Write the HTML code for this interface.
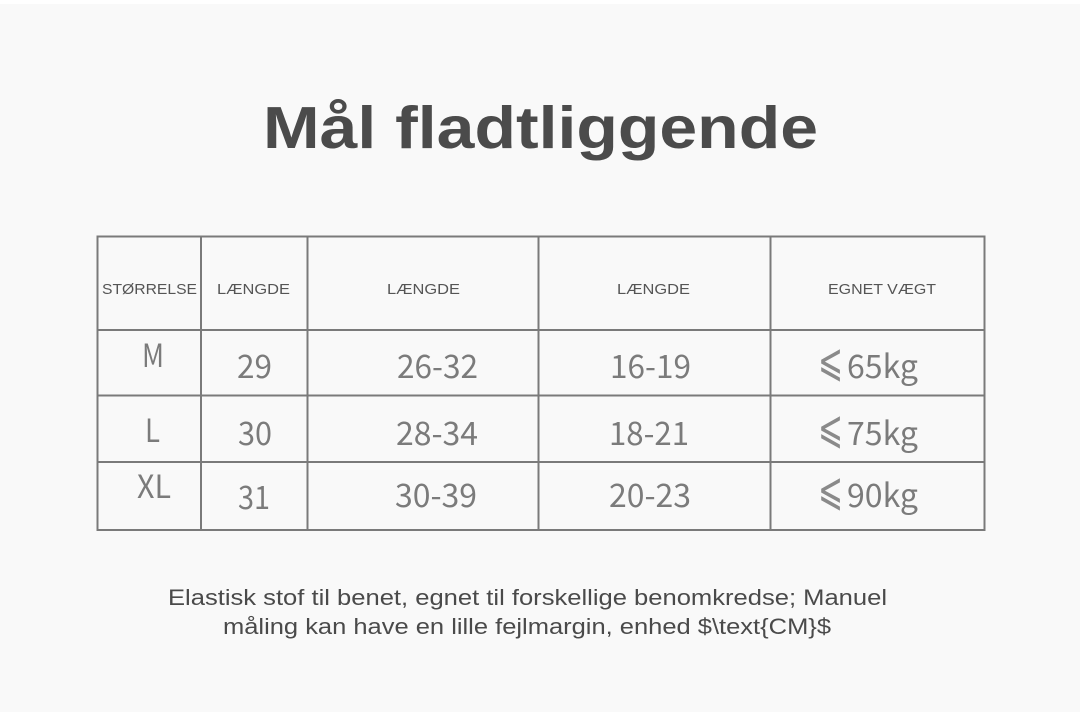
<!DOCTYPE html>
<html>
<head>
<meta charset="utf-8">
<style>
  html, body { margin:0; padding:0; background:#f9f9f9; }
  body { width:1080px; height:712px; overflow:hidden; }
  svg { display:block; }
  .hd { font-family:"Liberation Sans", sans-serif; font-size:15px; fill:#555; }
  .dt { font-family:"Noto Sans CJK SC", "Liberation Sans", "DejaVu Sans", sans-serif; font-size:32px; fill:#7b7b7b; }
  .le { font-family:"DejaVu Sans", sans-serif; font-size:46px; fill:#8a8a8a; }
  .ft { font-family:"Liberation Sans", sans-serif; font-size:22.5px; fill:#4a4a4a; }
</style>
</head>
<body>
<svg width="1080" height="712" viewBox="0 0 1080 712" xmlns="http://www.w3.org/2000/svg">
  <rect x="0" y="0" width="1080" height="712" fill="#f9f9f9"/>
  <rect x="0" y="0" width="1080" height="4" fill="#ffffff"/>

  <text x="263" y="148" textLength="555" lengthAdjust="spacingAndGlyphs" font-family="Liberation Sans, sans-serif" font-weight="bold" font-size="59" fill="#4b4b4b">Mål fladtliggende</text>

  <g stroke="#7a7a7a" stroke-width="2" fill="none">
    <rect x="97.5" y="236.5" width="887" height="293.5"/>
    <line x1="201" y1="236" x2="201" y2="530"/>
    <line x1="307.5" y1="236" x2="307.5" y2="530"/>
    <line x1="538.5" y1="236" x2="538.5" y2="530"/>
    <line x1="770.5" y1="236" x2="770.5" y2="530"/>
    <line x1="97" y1="330" x2="985" y2="330"/>
    <line x1="97" y1="395.5" x2="985" y2="395.5"/>
    <line x1="97" y1="462" x2="985" y2="462"/>
  </g>

  <text class="hd" x="102" y="294" textLength="95" lengthAdjust="spacingAndGlyphs">STØRRELSE</text>
  <text class="hd" x="217" y="294" textLength="73" lengthAdjust="spacingAndGlyphs">LÆNGDE</text>
  <text class="hd" x="387" y="294" textLength="73" lengthAdjust="spacingAndGlyphs">LÆNGDE</text>
  <text class="hd" x="617" y="294" textLength="73" lengthAdjust="spacingAndGlyphs">LÆNGDE</text>
  <text class="hd" x="828" y="294" textLength="108" lengthAdjust="spacingAndGlyphs">EGNET VÆGT</text>

  <!-- Row M -->
  <text class="dt" x="142" y="367" textLength="22" lengthAdjust="spacingAndGlyphs">M</text>
  <text class="dt" x="237" y="378" textLength="35" lengthAdjust="spacingAndGlyphs">29</text>
  <text class="dt" x="397" y="378" textLength="81" lengthAdjust="spacingAndGlyphs">26-32</text>
  <text class="dt" x="610" y="378" textLength="81" lengthAdjust="spacingAndGlyphs">16-19</text>
  <text class="le" x="818" y="376" textLength="25" lengthAdjust="spacingAndGlyphs">⩽</text>
  <text class="dt" x="847" y="378" textLength="71" lengthAdjust="spacingAndGlyphs">65kg</text>

  <!-- Row L -->
  <text class="dt" x="145" y="442" textLength="15" lengthAdjust="spacingAndGlyphs">L</text>
  <text class="dt" x="238" y="445" textLength="34" lengthAdjust="spacingAndGlyphs">30</text>
  <text class="dt" x="396" y="445" textLength="82" lengthAdjust="spacingAndGlyphs">28-34</text>
  <text class="dt" x="609" y="445" textLength="80" lengthAdjust="spacingAndGlyphs">18-21</text>
  <text class="le" x="818" y="443" textLength="25" lengthAdjust="spacingAndGlyphs">⩽</text>
  <text class="dt" x="847" y="445" textLength="71" lengthAdjust="spacingAndGlyphs">75kg</text>

  <!-- Row XL -->
  <text class="dt" x="137" y="498" textLength="34" lengthAdjust="spacingAndGlyphs">XL</text>
  <text class="dt" x="238" y="509" textLength="32" lengthAdjust="spacingAndGlyphs">31</text>
  <text class="dt" x="395" y="507" textLength="82" lengthAdjust="spacingAndGlyphs">30-39</text>
  <text class="dt" x="609" y="507" textLength="82" lengthAdjust="spacingAndGlyphs">20-23</text>
  <text class="le" x="818" y="505" textLength="25" lengthAdjust="spacingAndGlyphs">⩽</text>
  <text class="dt" x="847" y="507" textLength="71" lengthAdjust="spacingAndGlyphs">90kg</text>

  <text class="ft" x="168" y="605" textLength="719" lengthAdjust="spacingAndGlyphs">Elastisk stof til benet, egnet til forskellige benomkredse; Manuel</text>
  <text class="ft" x="223" y="634" textLength="608" lengthAdjust="spacingAndGlyphs">måling kan have en lille fejlmargin, enhed $\text{CM}$</text>
</svg>
</body>
</html>
